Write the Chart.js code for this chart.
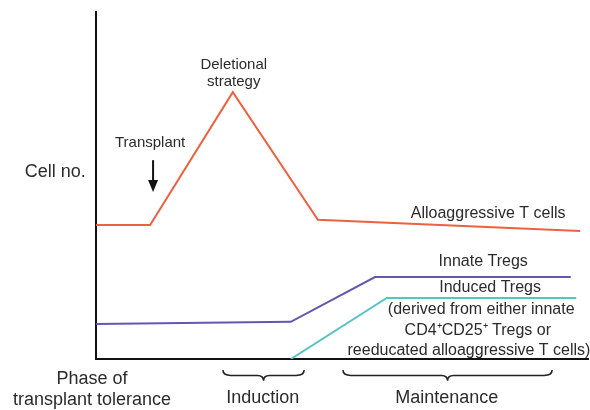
<!DOCTYPE html>
<html>
<head>
<meta charset="utf-8">
<script src="https://cdn.jsdelivr.net/npm/chart.js@4.4.1/dist/chart.umd.min.js"></script>
<style>
  html, body { margin: 0; padding: 0; background: #fff; }
  #wrap { width: 590px; height: 410px; }
</style>
</head>
<body>
<div id="wrap"><canvas id="chart"></canvas></div>
<script>
// time runs 0..100 along x, relative cell number 0..100 on y
const alloX = [0, 11, 27.8, 45.1, 98.4];
const alloY = [38.6, 38.6, 76.9, 40.1, 36.9];
const innateX = [0, 39.6, 56.7, 96.5];
const innateY = [10.1, 10.7, 23.6, 23.6];
const inducedX = [39.6, 59.1, 97.6];
const inducedY = [0, 17.6, 17.6];

// text labels placed in data units
const labels = [
  { text: "Cell no.", x: -8.3, y: 53.9, size: 18 },
  { text: "Transplant", x: 11, y: 62.2, size: 15 },
  { text: "Deletional", x: 28, y: 84.7, size: 15 },
  { text: "strategy", x: 28, y: 79.8, size: 15 },
  { text: "Alloaggressive T cells", x: 79.7, y: 41.8, size: 16 },
  { text: "Innate Tregs", x: 78.7, y: 28.0, size: 16 },
  { text: "Induced Tregs", x: 80.1, y: 20.7, size: 16 },
  { text: "(derived from either innate", x: 78.3, y: 14.1, size: 16 },
  { text: "CD4\u207ACD25\u207A Tregs or", x: 77.6, y: 8.1, size: 16 },
  { text: "reeducated alloaggressive T cells)", x: 75.8, y: 2.3, size: 16 },
  { text: "Phase of", x: -0.8, y: -5.8, size: 18 },
  { text: "transplant tolerance", x: -0.8, y: -11.8, size: 18 },
  { text: "Induction", x: 33.9, y: -11.2, size: 18 },
  { text: "Maintenance", x: 71.3, y: -11.2, size: 18 }
];
const braces = [
  { from: 25.8, to: 42.3 },
  { from: 50.2, to: 92.7 }
];
const arrow = { x: 11.6, yFrom: 57.3, yTo: 48.1 };

function toPoints(xs, ys) {
  return xs.map((x, i) => ({ x: x, y: ys[i] }));
}

const overlay = {
  id: "overlay",
  afterDraw(chart) {
    const c = chart.ctx;
    const sx = chart.scales.x;
    const sy = chart.scales.y;
    c.save();
    c.fillStyle = "#2b2b2b";
    c.textAlign = "center";
    c.textBaseline = "middle";
    labels.forEach((l) => {
      c.font = l.size + 'px "Liberation Sans", Arial, sans-serif';
      c.fillText(l.text, sx.getPixelForValue(l.x), sy.getPixelForValue(l.y));
    });

    // transplant arrow
    const ax = sx.getPixelForValue(arrow.x);
    const a0 = sy.getPixelForValue(arrow.yFrom);
    const a1 = sy.getPixelForValue(arrow.yTo);
    c.strokeStyle = "#111";
    c.fillStyle = "#111";
    c.lineWidth = 2;
    c.beginPath();
    c.moveTo(ax, a0);
    c.lineTo(ax, a1 - 10);
    c.stroke();
    c.beginPath();
    c.moveTo(ax - 5, a1 - 12);
    c.lineTo(ax + 5, a1 - 12);
    c.lineTo(ax, a1);
    c.closePath();
    c.fill();

    // curly braces under the x axis
    const top = sy.getPixelForValue(-3.2);
    const bot = sy.getPixelForValue(-6.3);
    const mid = (top + bot) / 2;
    c.strokeStyle = "#222";
    c.lineWidth = 1.6;
    braces.forEach((b) => {
      const x0 = sx.getPixelForValue(b.from);
      const x1 = sx.getPixelForValue(b.to);
      const xm = (x0 + x1) / 2;
      c.beginPath();
      c.moveTo(x0, top);
      c.quadraticCurveTo(x0, mid, x0 + 8, mid);
      c.lineTo(xm - 6, mid);
      c.quadraticCurveTo(xm, mid, xm, bot);
      c.quadraticCurveTo(xm, mid, xm + 6, mid);
      c.lineTo(x1 - 8, mid);
      c.quadraticCurveTo(x1, mid, x1, top);
      c.stroke();
    });
    c.restore();
  }
};

const lineStyle = { showLine: true, pointRadius: 0, borderWidth: 2, fill: false, tension: 0 };

new Chart(document.getElementById("chart"), {
  type: "scatter",
  data: {
    datasets: [
      Object.assign({ label: "Alloaggressive T cells", data: toPoints(alloX, alloY), borderColor: "#ec6240" }, lineStyle),
      Object.assign({ label: "Innate Tregs", data: toPoints(innateX, innateY), borderColor: "#6656b0" }, lineStyle),
      Object.assign({ label: "Induced Tregs", data: toPoints(inducedX, inducedY), borderColor: "#58c3c6" }, lineStyle)
    ]
  },
  options: {
    responsive: true,
    maintainAspectRatio: false,
    animation: false,
    layout: { padding: { left: 96, right: 2, top: 12, bottom: 51 } },
    plugins: { legend: { display: false }, tooltip: { enabled: false } },
    scales: {
      x: {
        type: "linear", min: 0, max: 100,
        grid: { display: false, drawTicks: false, tickLength: 0 },
        border: { display: true, color: "#111", width: 2 },
        ticks: { display: false, padding: 0 }
      },
      y: {
        type: "linear", min: 0, max: 100,
        grid: { display: false, drawTicks: false, tickLength: 0 },
        border: { display: true, color: "#111", width: 2 },
        ticks: { display: false, padding: 0 }
      }
    }
  },
  plugins: [overlay]
});
</script>
</body>
</html>
